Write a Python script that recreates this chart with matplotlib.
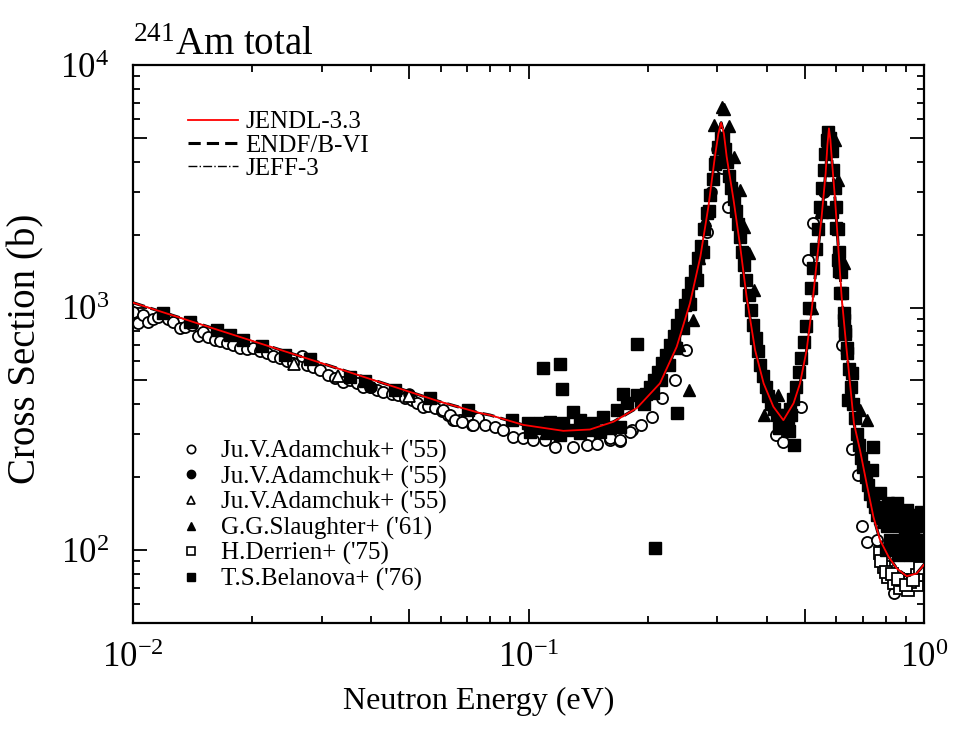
import numpy as np
import matplotlib
matplotlib.use("Agg")
import matplotlib.pyplot as plt
from matplotlib.ticker import FixedLocator, FuncFormatter, NullFormatter
from matplotlib.lines import Line2D

plt.rcParams["font.family"] = ["Liberation Serif", "DejaVu Serif"]
plt.rcParams["mathtext.fontset"] = "custom"
plt.rcParams["mathtext.rm"] = "Liberation Serif"
plt.rcParams["mathtext.it"] = "Liberation Serif:italic"

# evaluated total cross section (JENDL-3.3, ENDF/B-VI and JEFF-3 overlap at this scale)
eval_e = [0.01, 0.0275, 0.0597, 0.0754, 0.080, 0.097, 0.1225, 0.143, 0.164, 0.188,
          0.215, 0.237, 0.256, 0.272, 0.285, 0.296, 0.302, 0.307, 0.312, 0.317,
          0.330, 0.343, 0.356, 0.374, 0.393, 0.416, 0.441, 0.468, 0.486, 0.505,
          0.520, 0.535, 0.551, 0.564, 0.570, 0.575, 0.580, 0.584, 0.596, 0.607,
          0.619, 0.635, 0.650, 0.665, 0.689, 0.716, 0.745, 0.774, 0.813, 0.853,
          0.904, 0.958, 1.0]
eval_xs = [1047, 617, 409, 367, 360, 328, 310, 314, 338, 385,
           487, 689, 1041, 1620, 2606, 4186, 5200, 5780, 5200, 4186,
           2775, 1782, 1108, 668, 487, 390, 343, 403, 487, 668,
           977, 1520, 2368, 3573, 4700, 5480, 4900, 4186, 2775, 1782,
           1108, 711, 487, 333, 258, 188, 137, 110, 94, 84,
           78, 80, 87]

# Ju.V.Adamchuk+ ('55), open circles
adam1_e = [0.0100, 0.01031, 0.01062, 0.01093, 0.01126, 0.01159, 0.01193, 0.01229, 0.01265, 0.01315,
           0.01353, 0.01407, 0.01463, 0.01506, 0.0155, 0.01612, 0.0166, 0.01725, 0.01794, 0.01865,
           0.01939, 0.02015, 0.02095, 0.02178, 0.02264, 0.02353, 0.02446, 0.02543, 0.0267, 0.02748,
           0.02858, 0.02971, 0.03119, 0.03242, 0.03402, 0.03538, 0.03677, 0.03823, 0.03974, 0.04131,
           0.04295, 0.04508, 0.04687, 0.04872, 0.05065, 0.05216, 0.05422, 0.05583, 0.05803, 0.06032,
           0.06271, 0.06457, 0.06713, 0.06979, 0.07185, 0.07464, 0.0609, 0.0633, 0.0652, 0.0678,
           0.0725, 0.0776, 0.0823, 0.0864, 0.0915, 0.0970, 0.1028, 0.110, 0.1167, 0.1298,
           0.1403, 0.1487, 0.1607, 0.1703, 0.1824, 0.192, 0.205, 0.217, 0.234, 0.250,
           0.282, 0.309, 0.319, 0.4215, 0.441, 0.489, 0.51, 0.524, 0.619, 0.656,
           0.68, 0.698, 0.716, 0.76, 0.84, 0.94, 0.161, 0.170, 0.181]
adam1_xs = [961, 865, 931, 874, 894, 911, 946, 894, 874, 825,
            828, 847, 763, 795, 753, 735, 728, 716, 700, 679,
            672, 679, 664, 647, 631, 617, 602, 592, 631, 580,
            567, 552, 527, 510, 494, 502, 487, 469, 469, 457,
            450, 440, 436, 422, 416, 405, 390, 393, 384, 375,
            360, 344, 344, 355, 328, 349, 378, 360, 344, 338,
            328, 328, 321, 313, 293, 289, 284, 284, 267, 267,
            271, 274, 284, 282, 313, 328, 354, 424, 502, 668,
            2053, 3760, 2606, 298, 280, 390, 1570, 2222, 700, 260,
            204, 125, 108, 110, 66.7, 104, 290, 284, 308]

# Ju.V.Adamchuk+ ('55), filled circles (mostly hidden under other data)
adam2_e = [0.290, 0.300, 0.560, 0.570, 0.620, 0.0400, 0.0500]
adam2_xs = [3000, 4500, 3000, 4500, 1150, 470, 440]

# Ju.V.Adamchuk+ ('55), open triangles
adam3_e = [0.0255, 0.0330, 0.0500]
adam3_xs = [585, 520, 430]

# G.G.Slaughter+ ('61), filled triangles
slau_e = [0.309, 0.294, 0.322, 0.330, 0.343, 0.350, 0.361, 0.371, 0.261, 0.254,
          0.393, 0.428, 0.596, 0.575, 0.607, 0.627, 0.657, 0.689, 0.716, 0.280,
          0.270, 0.240, 0.550, 0.520, 0.312]
slau_xs = [6730, 5656, 5600, 4186, 3050, 2150, 1670, 1180, 888, 457,
           360, 436, 4900, 5060, 3357, 1520, 553, 378, 343, 2300,
           1600, 700, 2500, 1000, 6600]

# H.Derrien+ ('75), open squares
derr_e = [0.774, 0.79, 0.813, 0.84, 0.87, 0.91, 0.958, 0.99, 1.0, 0.98,
          0.78, 0.80, 0.88, 0.92, 0.958, 0.975, 0.83, 0.86, 0.90, 0.94]
derr_xs = [96.9, 85.3, 77.5, 72.9, 69.5, 68.5, 71.7, 79, 94, 85,
           90, 81, 75, 74, 79, 84, 80, 76, 72, 75]

# T.S.Belanova+ ('76), filled squares
bela_e = [0.01193, 0.01393, 0.01627, 0.01759, 0.01901, 0.02115, 0.02423, 0.02803, 0.03538, 0.03861,
          0.04597, 0.05636, 0.07046, 0.0907, 0.0999, 0.1070, 0.1133, 0.1225, 0.1298, 0.1349,
          0.1458, 0.1546, 0.1671, 0.1771, 0.1877, 0.1009, 0.1112, 0.1202, 0.1349, 0.1516,
          0.1703, 0.1070, 0.1273, 0.1430, 0.1607,
          0.109, 0.1202, 0.1214, 0.173, 0.1877, 0.209, 0.237,
          0.192, 0.198, 0.203, 0.208, 0.213, 0.218, 0.223, 0.228, 0.233, 0.238,
          0.243, 0.248, 0.253, 0.258, 0.263, 0.268, 0.273, 0.278, 0.283, 0.288,
          0.293, 0.298, 0.302, 0.306,
          0.196, 0.206, 0.216, 0.226, 0.236, 0.246, 0.256, 0.266, 0.276, 0.286, 0.296,
          0.310, 0.314, 0.318, 0.322, 0.326, 0.330, 0.334, 0.338, 0.342, 0.346,
          0.350, 0.355, 0.360, 0.365, 0.370, 0.375, 0.380, 0.386, 0.392, 0.398,
          0.404, 0.410, 0.417, 0.424, 0.432, 0.440,
          0.445, 0.452, 0.460, 0.468, 0.430, 0.455,
          0.450, 0.458, 0.466, 0.474, 0.482, 0.490, 0.497, 0.504, 0.511, 0.518,
          0.525, 0.532, 0.539, 0.546, 0.552, 0.558, 0.563, 0.568, 0.572,
          0.580, 0.585, 0.590, 0.595, 0.600, 0.605, 0.610, 0.615, 0.620, 0.626,
          0.632, 0.638, 0.645, 0.652, 0.660, 0.668, 0.676, 0.685, 0.694, 0.703,
          0.712, 0.722, 0.732, 0.742, 0.752, 0.762, 0.775, 0.790, 0.805, 0.820,
          0.835, 0.850, 0.865, 0.880, 0.895, 0.910, 0.925, 0.940, 0.955, 0.970, 0.985,
          0.80, 0.82, 0.84, 0.86, 0.88, 0.90, 0.92, 0.94, 0.96, 0.98,
          0.584, 0.551, 0.600, 0.607, 0.610, 0.612, 0.627, 0.632, 0.640, 0.657, 0.6425,
          0.745, 0.738, 0.774, 0.813, 0.853, 0.904, 0.980, 1.0, 0.83, 0.904,
          0.980, 0.950, 0.870]
bela_xs = [946, 874, 808, 770, 735, 693, 637, 612, 515, 499,
           457, 422, 378, 344, 333, 333, 338, 333, 372, 344,
           333, 355, 378, 403, 436, 308, 303, 298, 303, 308,
           322, 318, 313, 313, 318,
           561, 585, 460, 440, 707, 102, 366,
           410, 440, 470, 500, 540, 590, 640, 700, 760, 850,
           930, 1020, 1130, 1260, 1420, 1600, 1800, 2100, 2450, 2900,
           3400, 4000, 4600, 5000,
           400, 445, 500, 580, 680, 820, 1030, 1300, 1700, 2500, 3900,
           5000, 4500, 4000, 3500, 3100, 2800, 2500, 2200, 1950, 1700,
           1500, 1300, 1130, 980, 850, 750, 660, 580, 520, 470,
           430, 400, 380, 360, 350, 340,
           330, 345, 360, 271, 320, 310,
           360, 380, 420, 470, 540, 620, 720, 840, 1000, 1200,
           1450, 1750, 2100, 2600, 3100, 3700, 4300, 4900, 5300,
           5000, 4400, 3700, 3100, 2600, 2100, 1700, 1400, 1150, 950,
           800, 680, 560, 470, 400, 350, 300, 270, 240, 220,
           200, 185, 170, 160, 150, 140, 135, 130, 125, 140,
           130, 140, 125, 135, 120, 140, 130, 115, 125, 140, 110,
           100, 110, 105, 95, 110, 100, 95, 100, 110, 95,
           2484, 2484, 2121, 1570, 1410, 1144, 888, 780, 647, 535, 416,
           267, 213, 171, 156, 156, 146, 144, 140, 107, 104,
           100, 125, 133]

fig = plt.figure(figsize=(9.61, 7.40), dpi=100)
ax = fig.add_axes([133 / 961, 117 / 740, 791 / 961, 558 / 740])

ms = 8
ax.plot(adam1_e, adam1_xs, "o", ms=ms, mfc="white", mec="black", mew=1.3, zorder=2)
ax.plot(adam2_e, adam2_xs, "o", ms=ms, mfc="black", mec="black", zorder=2)
ax.plot(adam3_e, adam3_xs, "^", ms=ms, mfc="white", mec="black", mew=1.3, zorder=2)
ax.plot(derr_e, derr_xs, "s", ms=ms, mfc="white", mec="black", mew=1.3, zorder=2)
ax.plot(bela_e, bela_xs, "s", ms=ms, mfc="black", mec="black", zorder=3)
ax.plot(slau_e, slau_xs, "^", ms=ms + 0.5, mfc="black", mec="black", zorder=3)

ax.plot(eval_e, eval_xs, color="black", ls=(0, (4, 2)), lw=2.2, zorder=4)
ax.plot(eval_e, eval_xs, color="black", ls="-.", lw=1.0, zorder=5)
ax.plot(eval_e, eval_xs, color="red", lw=1.3, zorder=6)

ax.set_xscale("log")
ax.set_yscale("log")
ax.set_xlim(0.01, 1.0)
ax.set_ylim(50, 1e4)

# decades and the 5x ticks are drawn long, the rest short
def log_fmt(v, pos):
    p = np.log10(v)
    if abs(p - round(p)) < 1e-6:
        return r"$10^{%d}$" % round(p)
    return ""

xmaj = [0.01, 0.05, 0.1, 0.5, 1.0]
xmin = [m * d for d in (0.01, 0.1) for m in (2, 3, 4, 6, 7, 8, 9)]
ymaj = [50, 100, 500, 1000, 5000, 10000]
ymin = [m * d for d in (10, 100, 1000) for m in (2, 3, 4, 6, 7, 8, 9) if 50 < m * d < 1e4]
ax.xaxis.set_major_locator(FixedLocator(xmaj))
ax.xaxis.set_minor_locator(FixedLocator(xmin))
ax.yaxis.set_major_locator(FixedLocator(ymaj))
ax.yaxis.set_minor_locator(FixedLocator(ymin))
ax.xaxis.set_major_formatter(FuncFormatter(log_fmt))
ax.yaxis.set_major_formatter(FuncFormatter(log_fmt))
ax.xaxis.set_minor_formatter(NullFormatter())
ax.yaxis.set_minor_formatter(NullFormatter())

ax.tick_params(which="both", direction="in", top=True, right=True, width=1.3)
ax.tick_params(which="major", length=10, labelsize=25)
ax.tick_params(which="minor", length=5)
ax.tick_params(axis="x", which="major", pad=14)
ax.tick_params(axis="y", which="major", pad=17.5)
for s in ax.spines.values():
    s.set_linewidth(1.6)

ax.set_xlabel("Neutron Energy (eV)", fontsize=23)
ax.xaxis.set_label_coords(0.437, -0.115)
ax.set_ylabel("Cross Section (b)", fontsize=28)
ax.yaxis.set_label_coords(-0.112, 0.492)
ax.set_title(r"$^{241}$Am total", loc="left", fontsize=28, pad=7)

line_handles = [
    Line2D([], [], color="red", lw=1.3),
    Line2D([], [], color="black", ls=(0, (4, 2)), lw=2.2),
    Line2D([], [], color="black", ls="-.", lw=1.0),
]
leg1 = ax.legend(line_handles, ["JENDL-3.3", "ENDF/B-VI", "JEFF-3"],
                 loc="upper left", bbox_to_anchor=(0.0695, 0.918), frameon=False,
                 fontsize=18, handlelength=2.0, handletextpad=0.3,
                 labelspacing=0.03, borderpad=0, borderaxespad=0)
ax.add_artist(leg1)

lms = 6
mark_handles = [
    Line2D([], [], ls="none", marker="o", ms=lms, mfc="white", mec="black", mew=1.2),
    Line2D([], [], ls="none", marker="o", ms=lms, mfc="black", mec="black"),
    Line2D([], [], ls="none", marker="^", ms=lms, mfc="white", mec="black", mew=1.2),
    Line2D([], [], ls="none", marker="^", ms=lms, mfc="black", mec="black"),
    Line2D([], [], ls="none", marker="s", ms=lms, mfc="white", mec="black", mew=1.2),
    Line2D([], [], ls="none", marker="s", ms=lms, mfc="black", mec="black"),
]
mark_labels = ["Ju.V.Adamchuk+ ('55)", "Ju.V.Adamchuk+ ('55)", "Ju.V.Adamchuk+ ('55)",
               "G.G.Slaughter+ ('61)", "H.Derrien+ ('75)", "T.S.Belanova+ ('76)"]
ax.legend(mark_handles, mark_labels, loc="upper left", bbox_to_anchor=(0.058, 0.328),
          frameon=False, fontsize=18, handlelength=1.0, handletextpad=0.7,
          labelspacing=0.1, borderpad=0, borderaxespad=0)

fig.savefig("out.png", dpi=100)
